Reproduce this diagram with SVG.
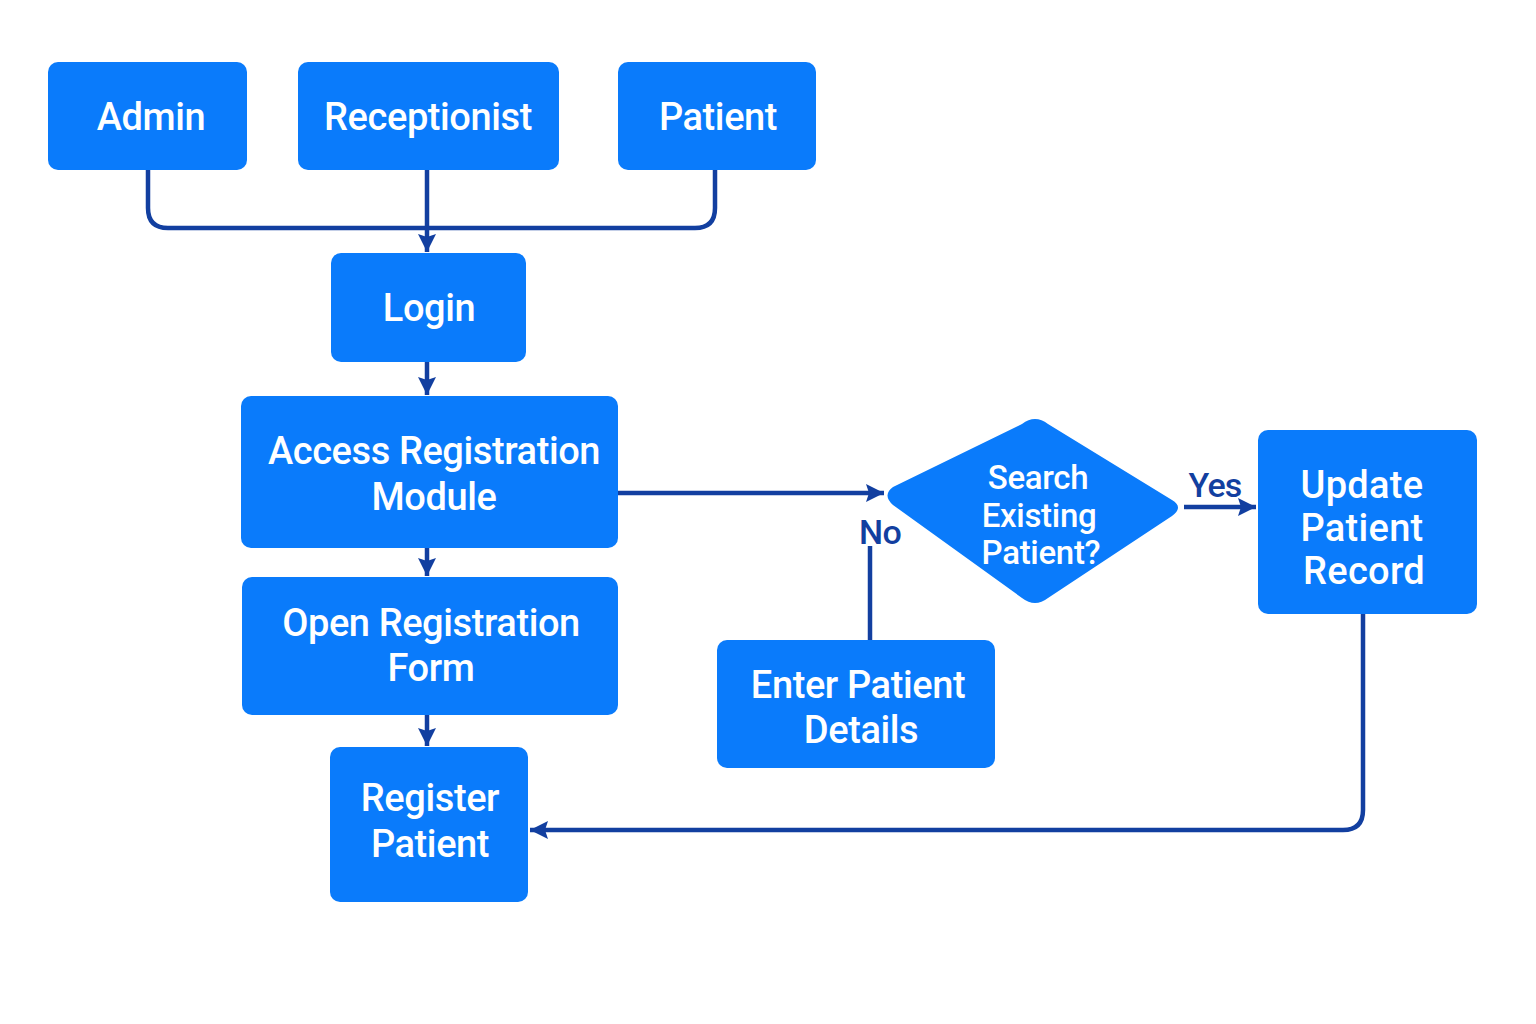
<svg xmlns="http://www.w3.org/2000/svg" width="1536" height="1024" viewBox="0 0 1536 1024">
<defs>
<style>
.box{fill:#0A7BFB;}
.t{font-family:Roboto,"Liberation Sans",sans-serif;font-weight:500;font-size:38px;fill:#ffffff;text-anchor:middle;letter-spacing:-0.4px;}
.d{font-size:33px;letter-spacing:-0.3px;}
.u{font-size:38px;letter-spacing:0.3px;}
.lbl{font-family:Roboto,"Liberation Sans",sans-serif;font-weight:500;font-size:34px;fill:#123FA0;text-anchor:middle;letter-spacing:-0.8px;}
.c{fill:none;stroke:#123FA0;stroke-width:4.5;stroke-linejoin:round;}
</style>
<marker id="ah" markerUnits="userSpaceOnUse" markerWidth="22" markerHeight="22" viewBox="0 0 22 22" refX="20" refY="11" orient="auto">
<path d="M2,2 L20,11 L2,20 L5,11 Z" fill="#123FA0"/>
</marker>
</defs>
<rect width="1536" height="1024" fill="#ffffff"/>
<g id="connectors">
<path class="c" d="M148,170 V208 Q148,228 168,228 H695 Q715,228 715,208 V170"/>
<path class="c" d="M427,170 V252" marker-end="url(#ah)"/>
<path class="c" d="M427,362 V395" marker-end="url(#ah)"/>
<path class="c" d="M427,548 V576" marker-end="url(#ah)"/>
<path class="c" d="M427,715 V746" marker-end="url(#ah)"/>
<path class="c" d="M618,493 H884" marker-end="url(#ah)"/>
<path class="c" d="M870,640 V546"/>
<path class="c" d="M1184,507 H1256" marker-end="url(#ah)"/>
<path class="c" d="M1363,614 V810 Q1363,830 1343,830 H530" marker-end="url(#ah)"/>
<text class="lbl" x="1215" y="497">Yes</text>
<text class="lbl" x="880" y="544">No</text>
</g>
<g id="admin"><rect class="box" x="48" y="62" width="199" height="108" rx="10"/><text class="t" x="151" y="130">Admin</text></g>
<g id="receptionist"><rect class="box" x="298" y="62" width="261" height="108" rx="10"/><text class="t" x="428" y="130">Receptionist</text></g>
<g id="patient"><rect class="box" x="618" y="62" width="198" height="108" rx="10"/><text class="t" x="718" y="130">Patient</text></g>
<g id="login"><rect class="box" x="331" y="253" width="195" height="109" rx="10"/><text class="t" x="429" y="321">Login</text></g>
<g id="access"><rect class="box" x="241" y="396" width="377" height="152" rx="10"/><text class="t" x="434" y="464">Access Registration</text><text class="t" x="434" y="510">Module</text></g>
<g id="open"><rect class="box" x="242" y="577" width="376" height="138" rx="10"/><text class="t" x="431" y="636">Open Registration</text><text class="t" x="431" y="681">Form</text></g>
<g id="register"><rect class="box" x="330" y="747" width="198" height="155" rx="10"/><text class="t" x="430" y="811">Register</text><text class="t" x="430" y="857">Patient</text></g>
<g id="search"><path class="box" d="M1022,424 Q1035,414 1048,424 L1172,500 Q1184,507 1172,516 L1048,598 Q1035,608 1022,598 L893,505 Q882,495 893,487 Z"/><text class="t d" x="1038" y="489">Search</text><text class="t d" x="1039" y="527">Existing</text><text class="t d" x="1041" y="564">Patient?</text></g>
<g id="update"><rect class="box" x="1258" y="430" width="219" height="184" rx="10"/><text class="t u" x="1362" y="498">Update</text><text class="t u" x="1362" y="541">Patient</text><text class="t u" x="1364" y="584">Record</text></g>
<g id="enter"><rect class="box" x="717" y="640" width="278" height="128" rx="10"/><text class="t" x="858" y="698">Enter Patient</text><text class="t" x="861" y="743">Details</text></g>
</svg>
